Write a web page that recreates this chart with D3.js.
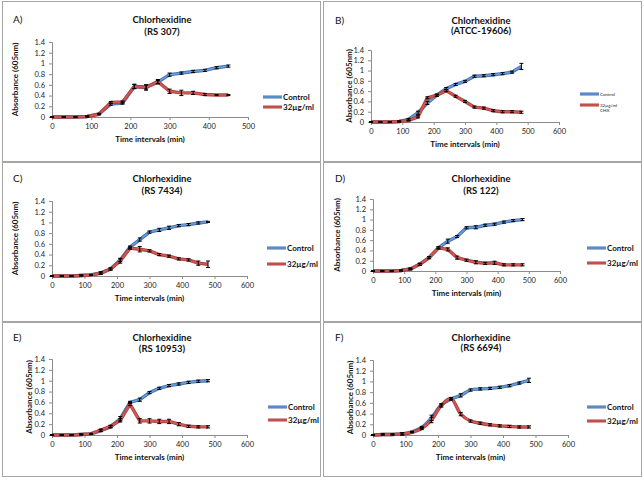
<!DOCTYPE html>
<html><head><meta charset="utf-8">
<script src="https://cdn.jsdelivr.net/npm/d3@7"></script>
<style>body{margin:0;background:#fff}svg{display:block}text{font-family:Lato,"Open Sans",sans-serif}</style>
</head><body><svg id="c" width="644" height="480"></svg>
<script>
const times = [0,30,60,90,120,150,180,210,240,270,300,330,360,390,420,450,480];
const yTicks = [0,0.2,0.4,0.6,0.8,1,1.2,1.4];
const seriesNames = ["Control","32µg/ml"];
const panelLabels = ["A)","B)","C)","D)","E)","F)"];
const strains = ["(RS 307)","(ATCC-19606)","(RS 7434)","(RS 122)","(RS 10953)","(RS 6694)"];
const xMaxes = [500,600,600,600,600,600];

const controlA = [0,0,0,0.01,0.06,0.24,0.26,0.57,0.56,0.65,0.79,0.82,0.85,0.87,0.92,0.95];
const treatA   = [0,0,0,0.01,0.05,0.27,0.28,0.57,0.55,0.66,0.48,0.45,0.45,0.42,0.41,0.41];
const errCA    = [0,0,0,0.01,0.01,0.02,0.02,0.04,0.04,0.03,0.03,0.02,0.02,0.02,0.02,0.02];
const errTA    = [0,0,0,0.01,0.01,0.02,0.02,0.04,0.05,0.04,0.04,0.05,0.03,0.02,0.01,0.01];

const controlB = [0,0,0,0.01,0.05,0.18,0.37,0.52,0.65,0.73,0.79,0.89,0.9,0.92,0.94,0.97,1.08];
const treatB   = [0,0,0,0.01,0.03,0.1,0.47,0.52,0.61,0.5,0.4,0.29,0.27,0.22,0.2,0.2,0.19];
const errCB    = [0,0,0,0.01,0.02,0.03,0.03,0.02,0.02,0.02,0.02,0.02,0.02,0.02,0.02,0.02,0.06];
const errTB    = [0,0,0,0.01,0.01,0.02,0.02,0.02,0.02,0.02,0.02,0.02,0.02,0.02,0.02,0.02,0.02];

const controlC = [0,0,0,0.01,0.02,0.06,0.13,0.3,0.54,0.68,0.82,0.86,0.9,0.94,0.96,0.99,1.01];
const treatC   = [0,0,0,0.01,0.02,0.05,0.13,0.28,0.52,0.5,0.47,0.4,0.37,0.32,0.3,0.24,0.22];
const errCC    = [0,0,0,0.01,0.01,0.02,0.02,0.03,0.02,0.03,0.02,0.03,0.03,0.02,0.02,0.02,0.01];
const errTC    = [0,0,0,0.01,0.01,0.02,0.02,0.04,0.02,0.05,0.02,0.02,0.02,0.02,0.02,0.04,0.06];

const controlD = [0,0,0,0.01,0.04,0.13,0.26,0.45,0.58,0.67,0.84,0.85,0.89,0.91,0.95,0.98,1.0];
const treatD   = [0,0,0,0.01,0.04,0.13,0.26,0.45,0.42,0.26,0.21,0.17,0.15,0.16,0.12,0.12,0.12];
const errCD    = [0,0,0,0.01,0.01,0.02,0.02,0.02,0.04,0.02,0.02,0.03,0.02,0.02,0.02,0.02,0.02];
const errTD    = [0,0,0,0.01,0.02,0.02,0.02,0.02,0.03,0.03,0.02,0.03,0.02,0.03,0.02,0.02,0.02];

const controlE = [0,0,0,0.01,0.02,0.08,0.15,0.3,0.6,0.65,0.78,0.86,0.91,0.94,0.97,0.99,1.0];
const treatE   = [0,0,0,0.01,0.02,0.09,0.16,0.27,0.57,0.26,0.26,0.25,0.25,0.2,0.16,0.15,0.15];
const errCE    = [0,0,0,0.01,0.01,0.02,0.02,0.04,0.02,0.03,0.02,0.02,0.02,0.02,0.02,0.02,0.02];
const errTE    = [0,0,0,0.01,0.01,0.02,0.02,0.03,0.03,0.04,0.04,0.04,0.04,0.03,0.02,0.02,0.02];

const controlF = [0,0.01,0.01,0.02,0.06,0.14,0.32,0.56,0.67,0.74,0.84,0.86,0.87,0.89,0.92,0.97,1.02];
const treatF   = [0,0.01,0.01,0.02,0.05,0.12,0.28,0.55,0.68,0.39,0.26,0.22,0.19,0.17,0.16,0.15,0.15];
const errCF    = [0,0.01,0.01,0.02,0.01,0.02,0.05,0.02,0.02,0.03,0.02,0.02,0.02,0.02,0.02,0.02,0.04];
const errTF    = [0,0.01,0.01,0.02,0.01,0.02,0.05,0.03,0.02,0.03,0.02,0.02,0.02,0.02,0.02,0.02,0.02];

const panelData = [
  [controlA,treatA,errCA,errTA],[controlB,treatB,errCB,errTB],[controlC,treatC,errCC,errTC],
  [controlD,treatD,errCD,errTD],[controlE,treatE,errCE,errTE],[controlF,treatF,errCF,errTF]
];
const smooth = [false,false,false,false,false,true];

// layout (positions only)
const frames = [[2,1],[323,1],[2,162],[323,162],[2,322],[323,322]];
const frameW = 319, frameH = [160,159,154];
const boxes = [ // x0, x1, yBottom, yTop, legend y1, y2, legend x
  [52,248,117,42,97,107,263],[49,237,122,50,94,105,258],[52,247,116,41,88,104,267],
  [51,238,111,39,88,103,265],[52,247,115,39,87,100,268],[51,246,115,40,87,101,265]];
const titleY = [[19,31],[20,30],[18,30],[18,30],[17,28],[17,27]];
const titleX = [162,159,162,159,162,159];
const yTitleX = [15,27,15,15,29,28];
const colors = [{outer:"#4273b3",inner:"#6c9bd6"},{outer:"#b0413e",inner:"#cf5a57"}];

const svg = d3.select("#c");
const ox = [0,322,0,322,0,322], oy = [0,0,160,160,320,320];

frames.forEach((f,i)=>{
  svg.append("rect").attr("x",f[0]+0.5).attr("y",f[1]+0.5).attr("width",frameW-1)
    .attr("height",frameH[Math.floor(i/2)]).attr("fill","none").attr("stroke","#a6a6a6");
});

panelData.forEach((pd,i)=>{
  const g = svg.append("g").attr("transform",`translate(${ox[i]},${oy[i]})`);
  const b = boxes[i];
  const x = d3.scaleLinear().domain([0,xMaxes[i]]).range([b[0],b[1]]);
  const y = d3.scaleLinear().domain([0,1.4]).range([b[2],b[3]]);

  g.append("text").attr("x",13).attr("y",titleY[i][0]+4).attr("font-size",10).attr("fill","#111").text(panelLabels[i]);
  g.append("text").attr("x",titleX[i]).attr("y",titleY[i][0]+3.5).attr("text-anchor","middle")
    .attr("font-size",9.5).attr("font-weight","bold").attr("fill","#111").text("Chlorhexidine");
  g.append("text").attr("x",titleX[i]).attr("y",titleY[i][1]+3.5).attr("text-anchor","middle")
    .attr("font-size",9.5).attr("font-weight","bold").attr("fill","#111").text(strains[i]);

  const xa = g.append("g").attr("transform",`translate(0,${b[2]})`)
    .call(d3.axisBottom(x).tickValues(d3.range(0,xMaxes[i]+1,100)).tickSize(3).tickPadding(4).tickFormat(d3.format("d")));
  const ya = g.append("g").attr("transform",`translate(${b[0]},0)`)
    .call(d3.axisLeft(y).tickValues(yTicks).tickSize(3).tickPadding(4).tickFormat(d=>String(+d.toFixed(1))));
  [xa,ya].forEach(a=>{
    a.select(".domain").attr("stroke","#8c8c8c");
    a.selectAll(".tick line").attr("stroke","#8c8c8c");
    a.selectAll("text").attr("font-size",7.5).attr("fill","#222").attr("font-family","Lato,sans-serif");
  });
  g.append("text").attr("x",(b[0]+b[1])/2).attr("y",b[2]+25).attr("text-anchor","middle")
    .attr("font-size",8).attr("font-weight","bold").attr("fill","#111").text("Time intervals (min)");
  g.append("text").attr("transform",`translate(${yTitleX[i]+3},${(b[2]+b[3])/2}) rotate(-90)`).attr("text-anchor","middle")
    .attr("font-size",8).attr("font-weight","bold").attr("fill","#111").text("Absorbance (605nm)");

  const curve = smooth[i] ? d3.curveCatmullRom.alpha(0.5) : d3.curveLinear;
  [0,1].forEach(s=>{
    const vals = pd[s], errs = pd[s+2];
    const pts = vals.map((v,k)=>[times[k],v,errs[k]]);
    const line = d3.line().x(d=>x(d[0])).y(d=>y(d[1])).curve(curve);
    g.append("path").attr("d",line(pts)).attr("fill","none").attr("stroke",colors[s].outer).attr("stroke-width",3.4).attr("stroke-linejoin","round");
    g.append("path").attr("d",line(pts)).attr("fill","none").attr("stroke",colors[s].inner).attr("stroke-width",1.6).attr("stroke-linejoin","round");
  });
  [0,1].forEach(s=>{
    const vals = pd[s], errs = pd[s+2];
    vals.forEach((v,k)=>{
      const e = Math.max(errs[k],0.008);
      const xx = x(times[k]);
      g.append("line").attr("x1",xx).attr("x2",xx).attr("y1",y(v-e)).attr("y2",y(v+e)).attr("stroke","#000").attr("stroke-width",1);
      [v-e,v+e].forEach(t=>g.append("line").attr("x1",xx-2).attr("x2",xx+2).attr("y1",y(t)).attr("y2",y(t)).attr("stroke","#000").attr("stroke-width",1));
    });
  });

  // legend
  const small = i===1;
  seriesNames.forEach((nm,s)=>{
    const ly = b[4+s];
    g.append("line").attr("x1",b[6]).attr("x2",b[6]+19).attr("y1",ly).attr("y2",ly).attr("stroke",colors[s].outer).attr("stroke-width",3);
    g.append("line").attr("x1",b[6]).attr("x2",b[6]+19).attr("y1",ly).attr("y2",ly).attr("stroke",colors[s].inner).attr("stroke-width",1.2);
    if(small){
      const t = g.append("text").attr("x",b[6]+20).attr("y",ly+2).attr("font-size",4.5).attr("fill","#222");
      if(s===0) t.text(nm); else { t.text(nm); g.append("text").attr("x",b[6]+20).attr("y",ly+7).attr("font-size",4.5).attr("fill","#222").text("CHX"); }
    } else {
      g.append("text").attr("x",b[6]+20).attr("y",ly+3).attr("font-size",8).attr("font-weight","bold").attr("fill","#111").text(nm);
    }
  });
});
</script></body></html>
